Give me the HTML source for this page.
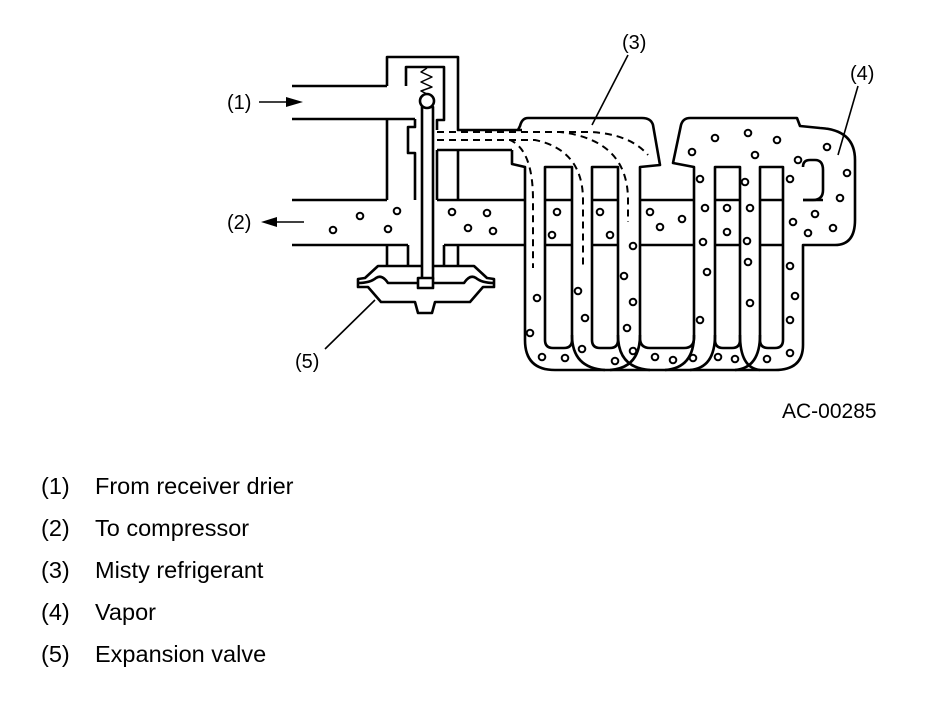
<!DOCTYPE html>
<html><head><meta charset="utf-8"><style>
html,body{margin:0;padding:0;background:#fff;width:944px;height:702px;overflow:hidden}
svg{display:block}
text{font-family:"Liberation Sans",Arial,sans-serif;fill:#000}
</style></head><body>
<svg width="944" height="702" viewBox="0 0 944 702" xmlns="http://www.w3.org/2000/svg">
<g fill="none" stroke="#000" stroke-width="2.6" stroke-linejoin="round">
<line x1="292" y1="86" x2="387" y2="86"/>
<line x1="292" y1="119" x2="415" y2="119"/>
<path d="M387 86 V57 H458 V130 H522"/>
<path d="M406 86 V67 H444 V120 H437 V130"/>
<path d="M415 119 V127 H408 V153 H415 V200"/>
<path d="M387 119 V200"/>
<path d="M437 150 H512"/>
<path d="M437 150 V200 M458 150 V200"/>
<line x1="292" y1="200" x2="387" y2="200"/>
<line x1="437" y1="200" x2="525" y2="200"/>
<line x1="292" y1="245" x2="408" y2="245"/>
<line x1="444" y1="245" x2="525" y2="245"/>
<path d="M387 245 V266 M408 245 V266 M444 245 V266 M458 245 V266"/>
<path d="M378 266 L365 278 L358 279 V287 H368 L381 302 H415 L418 313 H432 L435 302 H470 L483 287 H494 V279 L487 278 L474 266 Z"/>
<path d="M358 283 Q370 283 376 278 Q382 274 388 283 H464 Q470 274 476 278 Q482 283 494 283"/>
<rect x="422" y="107" width="11" height="172" fill="#fff"/>
<rect x="418" y="278" width="15" height="10" fill="#fff"/>
<circle cx="427" cy="101" r="7" fill="#fff"/>
<path d="M427 68 L421 72 L432 77 L421 82 L432 87 L421 91 L427 94" stroke-width="1.5"/>
<path d="M512 150 V164 L525 167 V340 Q525 370 555 370 H775 Q803 370 803 345 V245 H835 Q855 245 855 220 V160 Q855 130 820 128 L800 126 L797 118 H690 Q683 118 681 125 L673 163 L694 167 V338 Q694 348 684 348 H650 Q640 348 640 338 V167 L660 165 L653 125 Q651 118 642 118 H528 Q522 118 520 126 L518 130"/>
<path d="M545 167 H572 V340 Q572 348 564 348 H553 Q545 348 545 340 Z"/>
<path d="M592 167 H618 V340 Q618 348 610 348 H600 Q592 348 592 340 Z"/>
<path d="M715 167 H740 V340 Q740 348 732 348 H723 Q715 348 715 340 Z"/>
<path d="M760 167 H783 V340 Q783 348 775 348 H768 Q760 348 760 340 Z"/>
<path d="M803 167 Q803 160 810 160 H815 Q823 160 823 170 V190 Q823 200 813 200 H803"/>
<path d="M572 335 Q572 368 605 370"/>
<path d="M618 335 Q618 368 650 370"/>
<path d="M694 335 Q694 368 665 370"/>
<path d="M640 335 Q640 368 610 370"/>
<path d="M715 335 Q715 368 690 370"/>
<path d="M740 335 Q740 368 760 370"/>
<path d="M760 335 Q760 368 735 370"/>
<path d="M545 200 H572 M592 200 H618 M640 200 H694 M715 200 H740 M760 200 H783 M803 200 H823"/>
<path d="M545 245 H572 M592 245 H618 M640 245 H694 M715 245 H740 M760 245 H783"/>
</g>
<g fill="none" stroke="#000" stroke-width="2" stroke-dasharray="7,5">
<path d="M437 132 H590 Q630 134 648 155"/>
<path d="M437 132 H560 Q628 140 628 200 V222"/>
<path d="M437 140 H535 Q583 150 583 200 V268"/>
<path d="M437 140 H510 Q533 150 533 200 V268"/>
</g>
<g fill="#fff" stroke="#000" stroke-width="2">
<circle cx="715" cy="138" r="3.3"/><circle cx="748" cy="133" r="3.3"/><circle cx="777" cy="140" r="3.3"/><circle cx="692" cy="152" r="3.3"/><circle cx="755" cy="155" r="3.3"/><circle cx="827" cy="147" r="3.3"/><circle cx="798" cy="160" r="3.3"/><circle cx="847" cy="173" r="3.3"/><circle cx="840" cy="198" r="3.3"/><circle cx="700" cy="179" r="3.3"/><circle cx="745" cy="182" r="3.3"/><circle cx="790" cy="179" r="3.3"/><circle cx="557" cy="212" r="3.3"/><circle cx="600" cy="212" r="3.3"/><circle cx="650" cy="212" r="3.3"/><circle cx="682" cy="219" r="3.3"/><circle cx="660" cy="227" r="3.3"/><circle cx="552" cy="235" r="3.3"/><circle cx="610" cy="235" r="3.3"/><circle cx="705" cy="208" r="3.3"/><circle cx="727" cy="208" r="3.3"/><circle cx="750" cy="208" r="3.3"/><circle cx="727" cy="232" r="3.3"/><circle cx="703" cy="242" r="3.3"/><circle cx="747" cy="241" r="3.3"/><circle cx="633" cy="246" r="3.3"/><circle cx="815" cy="214" r="3.3"/><circle cx="793" cy="222" r="3.3"/><circle cx="808" cy="233" r="3.3"/><circle cx="833" cy="228" r="3.3"/><circle cx="748" cy="262" r="3.3"/><circle cx="707" cy="272" r="3.3"/><circle cx="624" cy="276" r="3.3"/><circle cx="790" cy="266" r="3.3"/><circle cx="578" cy="291" r="3.3"/><circle cx="537" cy="298" r="3.3"/><circle cx="795" cy="296" r="3.3"/><circle cx="633" cy="302" r="3.3"/><circle cx="750" cy="303" r="3.3"/><circle cx="585" cy="318" r="3.3"/><circle cx="700" cy="320" r="3.3"/><circle cx="790" cy="320" r="3.3"/><circle cx="530" cy="333" r="3.3"/><circle cx="627" cy="328" r="3.3"/><circle cx="582" cy="349" r="3.3"/><circle cx="633" cy="351" r="3.3"/><circle cx="542" cy="357" r="3.3"/><circle cx="565" cy="358" r="3.3"/><circle cx="615" cy="361" r="3.3"/><circle cx="655" cy="357" r="3.3"/><circle cx="673" cy="360" r="3.3"/><circle cx="693" cy="358" r="3.3"/><circle cx="718" cy="357" r="3.3"/><circle cx="735" cy="359" r="3.3"/><circle cx="767" cy="359" r="3.3"/><circle cx="790" cy="353" r="3.3"/>
<circle cx="360" cy="216" r="3.3"/><circle cx="397" cy="211" r="3.3"/><circle cx="333" cy="230" r="3.3"/><circle cx="388" cy="229" r="3.3"/><circle cx="452" cy="212" r="3.3"/><circle cx="487" cy="213" r="3.3"/><circle cx="468" cy="228" r="3.3"/><circle cx="493" cy="231" r="3.3"/>
</g>
<g stroke="#000" stroke-width="1.6" fill="none">
<line x1="259" y1="102" x2="290" y2="102"/>
<line x1="272" y1="222" x2="304" y2="222"/>
<line x1="628" y1="55" x2="592" y2="125"/>
<line x1="858" y1="86" x2="838" y2="155"/>
<line x1="325" y1="349" x2="375" y2="300"/>
</g>
<path d="M303 102 L286 97 L286 107 Z" fill="#000"/>
<path d="M261 222 L277 217 L277 227 Z" fill="#000"/>
<g font-size="20">
<text x="227" y="109">(1)</text>
<text x="227" y="229">(2)</text>
<text x="622" y="49">(3)</text>
<text x="850" y="80">(4)</text>
<text x="295" y="368">(5)</text>
</g>
<text x="782" y="418" font-size="21">AC-00285</text>
<g font-size="23.5">
<text x="41" y="494">(1)</text><text x="95" y="494">From receiver drier</text>
<text x="41" y="536">(2)</text><text x="95" y="536">To compressor</text>
<text x="41" y="578">(3)</text><text x="95" y="578">Misty refrigerant</text>
<text x="41" y="620">(4)</text><text x="95" y="620">Vapor</text>
<text x="41" y="662">(5)</text><text x="95" y="662">Expansion valve</text>
</g>
</svg>
</body></html>
